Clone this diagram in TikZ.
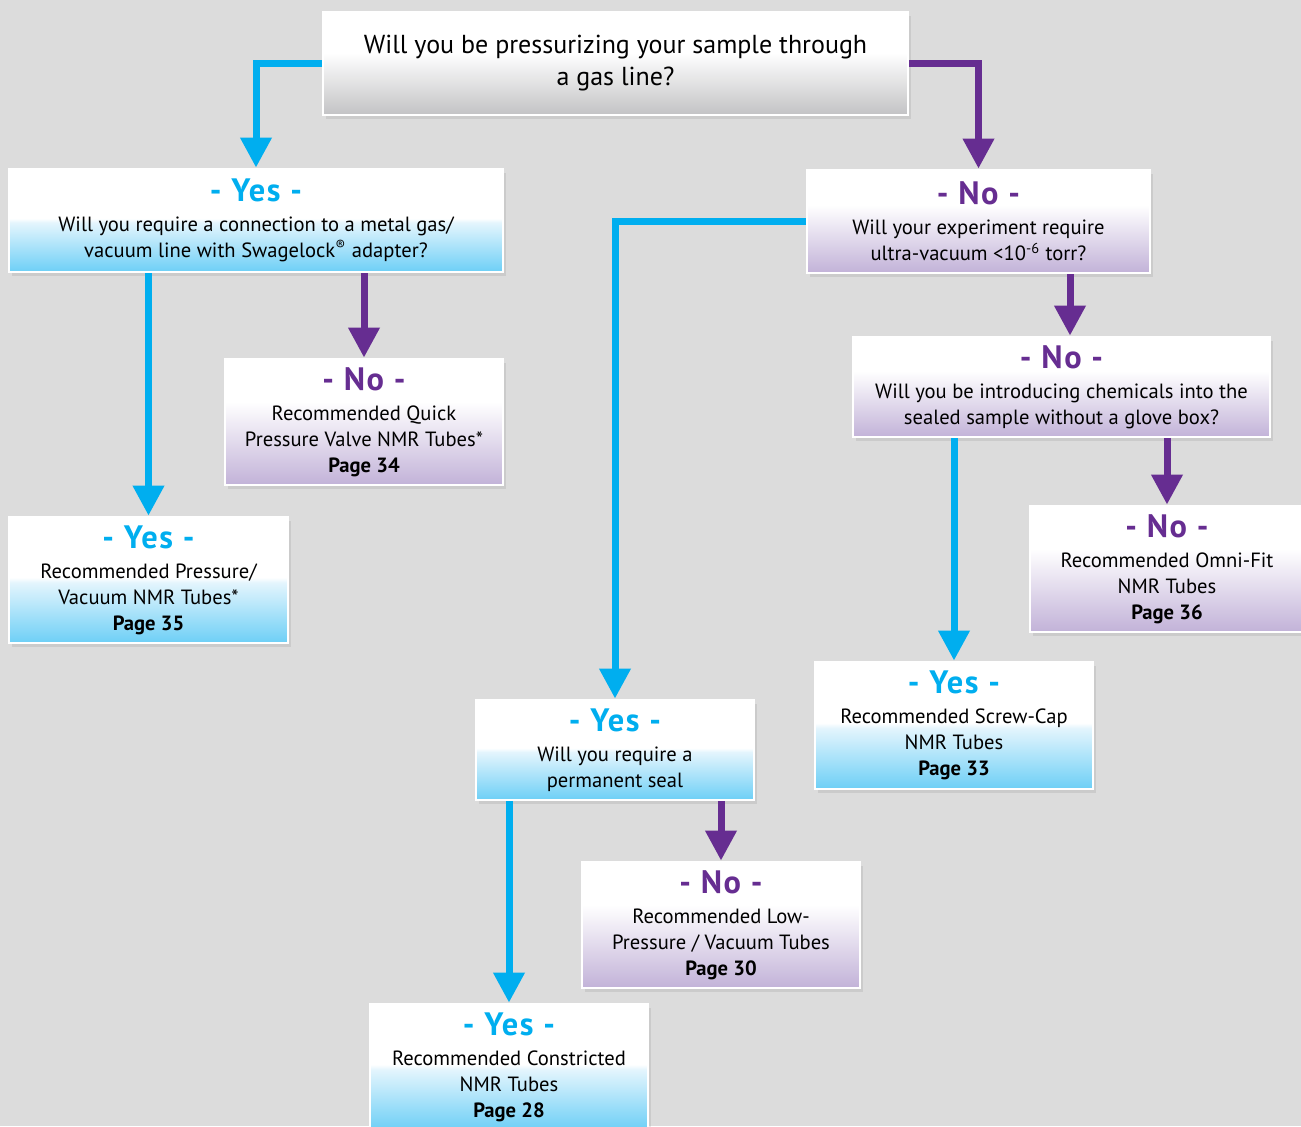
\documentclass[tikz,border=0pt]{standalone}
\usepackage{fontspec}
\setmainfont{PT Sans}
\usetikzlibrary{arrows.meta,shadows,calc}
\definecolor{bggray}{HTML}{DCDCDC}
\definecolor{yesblue}{HTML}{00AEEF}
\definecolor{nopurple}{HTML}{662D91}
\definecolor{yesbot}{HTML}{6DCFF6}
\definecolor{yeslight}{HTML}{E4F5FD}
\definecolor{nobot}{HTML}{C2B2D8}
\definecolor{qbot}{HTML}{C2C2C4}
\pgfdeclareverticalshading{yesshade}{100bp}{color(0bp)=(yesbot); color(25bp)=(yesbot); color(49bp)=(yeslight); color(51bp)=(white); color(100bp)=(white)}
\pgfdeclareverticalshading{noshade}{100bp}{color(0bp)=(nobot); color(25bp)=(nobot); color(58bp)=(white); color(100bp)=(white)}
\pgfdeclareverticalshading{qshade}{100bp}{color(0bp)=(qbot); color(25bp)=(qbot); color(55bp)=(white); color(100bp)=(white)}
\tikzset{box/.style={rectangle, draw=white, line width=1.4pt, align=center, inner sep=0pt, font=\fontsize{10.3}{13}\selectfont, drop shadow={opacity=0.18, shadow xshift=1.5pt, shadow yshift=-2pt}}}
\tikzset{yesbox/.style={box, shading=yesshade}}
\tikzset{nobox/.style={box, shading=noshade}}
\tikzset{yesline/.style={-{Triangle[length=15pt,width=15pt]}, yesblue, line width=3.5pt}}
\tikzset{noline/.style={-{Triangle[length=15pt,width=15pt]}, nopurple, line width=3.5pt}}
\newcommand{\yeshead}{{\color{yesblue}\bfseries\addfontfeature{LetterSpace=5}\fontsize{16.2}{17}\selectfont - Yes -}\\[2pt]}
\newcommand{\nohead}{{\color{nopurple}\bfseries\addfontfeature{LetterSpace=5}\fontsize{16.2}{17}\selectfont - No -}\\[2pt]}

\begin{document}
\begin{tikzpicture}[x=0.5pt,y=-0.5pt]
    \fill [bggray] (0,0) rectangle (1301,1126);
    \useasboundingbox (0,0) rectangle (1301,1126);
    % questions and answers
    \node [box, shading=qshade, minimum width=292.5pt, minimum height=51.5pt, font=\fontsize{13}{16}\selectfont] (q) at (615.5,63.5) {Will you be pressurizing your sample through\\a gas line?};
    \node [yesbox, minimum width=247pt, minimum height=51.5pt] (y1) at (256,220.5) {\yeshead Will you require a connection to a metal gas/\\vacuum line with Swagelock\textsuperscript{®} adapter?};
    \node [nobox, minimum width=171.5pt, minimum height=51.5pt] (n1) at (978.5,221.5) {\nohead Will your experiment require\\ultra-vacuum <10\textsuperscript{-6} torr?};
    \node [nobox, minimum width=139pt, minimum height=63pt] (n2) at (364,422) {\nohead Recommended Quick\\Pressure Valve NMR Tubes*\\\textbf{Page 34}};
    \node [yesbox, minimum width=139.5pt, minimum height=63pt] (y2) at (148.5,580) {\yeshead Recommended Pressure/\\Vacuum NMR Tubes*\\\textbf{Page 35}};
    \node [nobox, minimum width=208.5pt, minimum height=50pt] (n3) at (1061.5,387) {\nohead Will you be introducing chemicals into the\\sealed sample without a glove box?};
    \node [nobox, minimum width=137pt, minimum height=63pt] (n4) at (1167,569) {\nohead Recommended Omni-Fit\\NMR Tubes\\\textbf{Page 36}};
    \node [yesbox, minimum width=139pt, minimum height=63.5pt] (y3) at (954,725.5) {\yeshead Recommended Screw-Cap\\NMR Tubes\\\textbf{Page 33}};
    \node [yesbox, minimum width=139pt, minimum height=50pt] (y4) at (615,750) {\yeshead Will you require a\\permanent seal};
    \node [nobox, minimum width=139pt, minimum height=63pt] (n5) at (721,925) {\nohead Recommended Low-\\Pressure / Vacuum Tubes\\\textbf{Page 30}};
    \node [yesbox, minimum width=139pt, minimum height=63pt] (y5) at (509,1067) {\yeshead Recommended Constricted\\NMR Tubes\\\textbf{Page 28}};
    % connectors
    \coordinate (c1) at (1070,0);
    \draw [yesline] (q.west) -| (y1.north);
    \draw [noline] (q.east) -| (n1.north);
    \draw [yesline] (y1.south -| y2.north) -- (y2.north);
    \draw [noline] (y1.south -| n2.north) -- (n2.north);
    \draw [yesline] (n1.west) -| (y4.north);
    \draw [noline] (n1.south -| c1) -- (n3.north -| c1);
    \draw [yesline] (n3.south -| y3.north) -- (y3.north);
    \draw [noline] (n3.south -| n4.north) -- (n4.north);
    \draw [yesline] (y4.south -| y5.north) -- (y5.north);
    \draw [noline] (y4.south -| n5.north) -- (n5.north);
\end{tikzpicture}
\end{document}
